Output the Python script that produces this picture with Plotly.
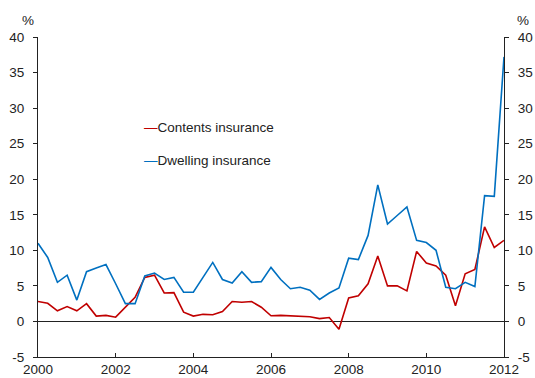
import plotly.graph_objects as go

# Quarterly observations, 2000 Q1 to 2012 Q1 (annual % change)
years = [2000 + q / 4 for q in range(49)]

contents = [2.8, 2.55, 1.5, 2.1, 1.5, 2.5, 0.75, 0.85, 0.6, 2.0, 3.4, 6.2, 6.5,
            4.0, 4.05, 1.3, 0.75, 1.0, 0.95, 1.4, 2.8, 2.7, 2.8, 2.0, 0.8,
            0.85, 0.8, 0.75, 0.65, 0.4, 0.55, -1.1, 3.3, 3.6, 5.3, 9.2, 5.0,
            5.0, 4.3, 9.85, 8.2, 7.8, 6.5, 2.2, 6.7, 7.3, 13.3, 10.4, 11.4]

dwelling = [11.0, 9.0, 5.5, 6.5, 3.0, 7.0, 7.5, 8.0, 5.3, 2.5, 2.5, 6.4, 6.8,
            5.9, 6.2, 4.1, 4.1, 6.2, 8.3, 5.9, 5.4, 7.0, 5.5, 5.6, 7.6,
            5.9, 4.6, 4.8, 4.4, 3.1, 4.0, 4.7, 8.9, 8.7, 12.1, 19.2, 13.7,
            14.9, 16.1, 11.4, 11.1, 10.0, 4.8, 4.6, 5.5, 4.9, 17.7, 17.6, 37.2]

x_ticks = [2000, 2002, 2004, 2006, 2008, 2010, 2012]
y_ticks = [-5, 0, 5, 10, 15, 20, 25, 30, 35, 40]
y_tick_text = [str(v) for v in y_ticks]  # plain hyphen for negatives

RED = "#c00000"
BLUE = "#0070c0"
INK = "#222222"
FONT = "Liberation Sans, Arial, sans-serif"

fig = go.Figure()
fig.add_trace(go.Scatter(x=years, y=contents, mode="lines", name="Contents insurance",
                         line=dict(color=RED, width=1.6)))
fig.add_trace(go.Scatter(x=years, y=dwelling, mode="lines", name="Dwelling insurance",
                         line=dict(color=BLUE, width=1.6)))
# invisible trace to activate the right-hand axis
fig.add_trace(go.Scatter(x=[years[0]], y=[0], yaxis="y2", mode="lines",
                         line=dict(width=0), hoverinfo="skip", showlegend=False))

axis_common = dict(range=[-5, 40], tickvals=y_ticks, ticktext=y_tick_text,
                   showgrid=False, showline=True, linecolor=INK, linewidth=1,
                   ticks="outside", ticklen=4, tickcolor=INK,
                   automargin=False,
                   tickfont=dict(family=FONT, size=13.5, color=INK))

fig.update_layout(
    width=535, height=378,
    margin=dict(l=38, r=31, t=37, b=21),
    paper_bgcolor="white", plot_bgcolor="white",
    showlegend=False,
    font=dict(family=FONT, size=13.5, color=INK),
    xaxis=dict(range=[2000, 2012], tickvals=x_ticks, showgrid=False,
               showline=True, linecolor=INK, linewidth=1,
               ticks="inside", ticklen=4, tickcolor=INK,
               automargin=False,
               tickfont=dict(family=FONT, size=13.5, color=INK),
               zeroline=False),
    yaxis=dict(**axis_common, side="left", zeroline=True,
               zerolinecolor=INK, zerolinewidth=1, ticklabelstandoff=6),
    yaxis2=dict(**axis_common, side="right", overlaying="y", zeroline=False,
                ticklabelstandoff=6),
    annotations=[
        dict(text="%", xref="paper", yref="paper", x=-0.0225, y=1.0, yshift=17,
             xanchor="center", yanchor="middle", showarrow=False,
             font=dict(family=FONT, size=13.5, color=INK)),
        dict(text="%", xref="paper", yref="paper", x=1.04, y=1.0, yshift=17,
             xanchor="center", yanchor="middle", showarrow=False,
             font=dict(family=FONT, size=13.5, color=INK)),
        dict(text=f"<span style='color:{RED}'>—</span>Contents insurance",
             xref="paper", yref="paper", x=0.2225, y=0.718,
             xanchor="left", yanchor="middle", showarrow=False,
             font=dict(family=FONT, size=13.5, color=INK)),
        dict(text=f"<span style='color:{BLUE}'>—</span>Dwelling insurance",
             xref="paper", yref="paper", x=0.2225, y=0.615,
             xanchor="left", yanchor="middle", showarrow=False,
             font=dict(family=FONT, size=13.5, color=INK)),
    ],
)

fig.write_html("out.html")
